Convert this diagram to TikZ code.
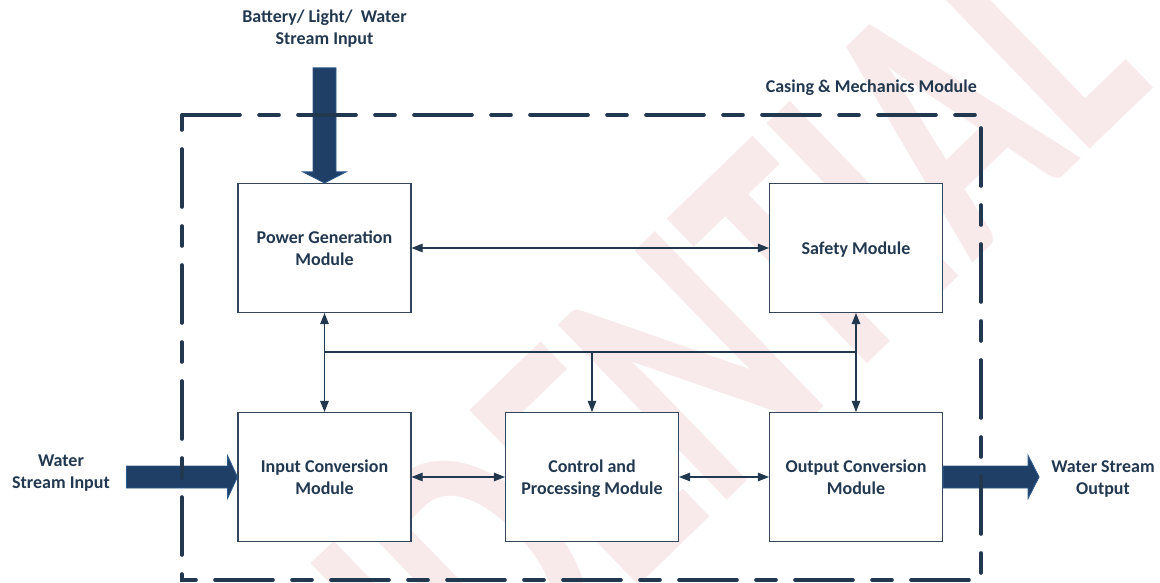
\documentclass[tikz,border=0pt]{standalone}
\usepackage{fontspec}
\usepackage{graphicx}
\setmainfont{Carlito}
\usetikzlibrary{arrows.meta,calc}
\definecolor{ink}{HTML}{22384F}
\definecolor{boxline}{HTML}{34465C}
\definecolor{bigfill}{HTML}{1F3F66}
\definecolor{bigline}{HTML}{2D5A8A}
\definecolor{wm}{HTML}{F8EAEA}
\begin{document}
\begin{tikzpicture}[x=1pt,y=-1pt,
  txt/.style={font=\bfseries\fontsize{18}{22}\selectfont, text=ink, align=center},
  module/.style={txt, draw=boxline, line width=1.1pt, fill=white,
    minimum width=173pt, minimum height=129pt, inner sep=0pt, text depth=0pt},
  lbl/.style={txt, inner sep=0pt},
  link/.style={draw=ink, line width=1.1pt, {Triangle[length=11pt,width=8.5pt]}-{Triangle[length=11pt,width=8.5pt]}},
  onelink/.style={draw=ink, line width=1.1pt, -{Triangle[length=11pt,width=8.5pt]}},
  bus/.style={draw=ink, line width=1.1pt},
  blockarrow/.style={fill=bigfill, draw=bigline, line width=0.9pt},
  casing/.style={draw=ink, line width=3.6pt, line cap=round,
    dash pattern=on 58pt off 19pt on 20pt off 19pt}
]
\useasboundingbox (0,0) rectangle (1160,583);
% watermark
\node[rotate=44, anchor=base east, text=wm, inner sep=0pt,
  font=\bfseries\fontsize{250}{250}\selectfont] (wmark) at (1157,85)
  {\scalebox{1}[1.5]{CONFIDENTIAL}};

% modules
\node[module] (pg) at (324.5,248) {Power Generation\\Module};
\node[module] (safe) at (856,248) {Safety Module};
\node[module] (in) at (324.5,477) {Input Conversion\\Module};
\node[module] (ctrl) at (592,477) {Control and\\Processing Module};
\node[module] (out) at (856,477) {Output Conversion\\Module};

% labels
\node[lbl] (bat) at (324.5,29) {Battery/ Light/\ \ Water\\Stream Input};
\node[lbl, anchor=base east] (casel) at (977,93) {Casing \& Mechanics Module};
\node[lbl] (win) at (61,473) {Water\\Stream Input};
\node[lbl] (wout) at (1103,479) {Water Stream\\Output};

% block arrows
\coordinate (t1) at (pg.north);
\filldraw[blockarrow] ($(t1)+(-11.5,-115)$) -- ($(t1)+(11.5,-115)$) -- ($(t1)+(11.5,-11)$)
  -- ($(t1)+(21.5,-11)$) -- (t1) -- ($(t1)+(-21.5,-11)$) -- ($(t1)+(-11.5,-11)$) -- cycle;
\coordinate (t2) at (in.west);
\filldraw[blockarrow] ($(t2)+(-111,-11)$) -- ($(t2)+(-10,-11)$) -- ($(t2)+(-10,-21.5)$)
  -- (t2) -- ($(t2)+(-10,21.5)$) -- ($(t2)+(-10,11)$) -- ($(t2)+(-111,11)$) -- cycle;
\coordinate (t3) at (out.east);
\filldraw[blockarrow] ($(t3)+(0,-11)$) -- ($(t3)+(85,-11)$) -- ($(t3)+(85,-21.5)$)
  -- ($(t3)+(96,0)$) -- ($(t3)+(85,21.5)$) -- ($(t3)+(85,11)$) -- ($(t3)+(0,11)$) -- cycle;

% connectors
\draw[link] (pg.east) -- (safe.west);
\draw[link] (in.east) -- (ctrl.west);
\draw[link] (ctrl.east) -- (out.west);
\coordinate (busL) at (pg.south |- 0,352);
\coordinate (busM) at (ctrl.north |- 0,352);
\coordinate (busR) at (safe.south |- 0,352);
\draw[bus] (busL) -- (busR);
\draw[link] (pg.south) -- (in.north);
\draw[onelink] (busM) -- (ctrl.north);
\draw[link] (safe.south) -- (out.north);

% casing
\draw[casing] (182,115) -- (981,115) -- (981,580) -- (182,580) -- cycle;
\end{tikzpicture}
\end{document}
